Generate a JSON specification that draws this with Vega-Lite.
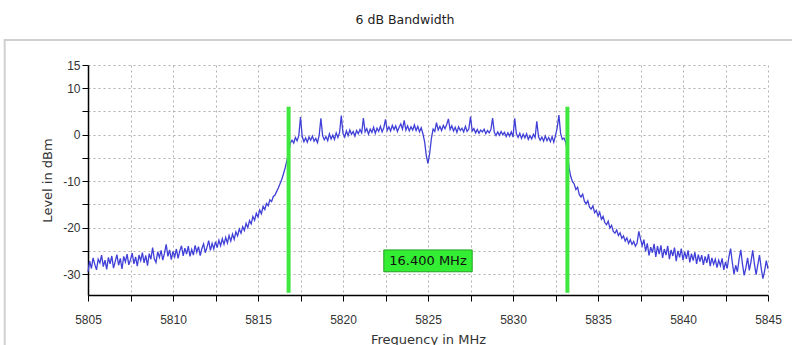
{
  "$schema": "https://vega.github.io/schema/vega-lite/v6.json",
  "width": 680,
  "height": 230,
  "autosize": {"type": "none"},
  "padding": {"left": 88, "top": 65, "right": 24, "bottom": 50},
  "background": "white",
  "config": {"font": "Liberation Sans", "view": {"stroke": null}},
  "title": {"text": "6 dB Bandwidth", "font": "DejaVu Sans", "fontSize": 12.5, "fontWeight": "normal", "offset": 12, "dx": -23, "color": "#222"},
  "datasets": {
    "trace": [
      {"f":5805.0,"l":-29.5},{"f":5805.1,"l":-27.2},{"f":5805.2,"l":-28.8},{"f":5805.3,"l":-26.5},{"f":5805.4,"l":-27.9},
      {"f":5805.5,"l":-29.1},{"f":5805.6,"l":-26.8},{"f":5805.7,"l":-27.6},{"f":5805.8,"l":-25.9},{"f":5805.9,"l":-28.4},
      {"f":5806.0,"l":-27.0},{"f":5806.1,"l":-29.0},{"f":5806.2,"l":-26.4},{"f":5806.3,"l":-27.8},{"f":5806.4,"l":-26.1},
      {"f":5806.5,"l":-28.7},{"f":5806.6,"l":-27.3},{"f":5806.7,"l":-25.8},{"f":5806.8,"l":-28.1},{"f":5806.9,"l":-26.6},
      {"f":5807.0,"l":-28.9},{"f":5807.1,"l":-26.2},{"f":5807.2,"l":-27.4},{"f":5807.3,"l":-25.7},{"f":5807.4,"l":-28.0},
      {"f":5807.5,"l":-26.9},{"f":5807.6,"l":-25.5},{"f":5807.7,"l":-27.8},{"f":5807.8,"l":-26.3},{"f":5807.9,"l":-28.3},
      {"f":5808.0,"l":-25.9},{"f":5808.1,"l":-27.1},{"f":5808.2,"l":-25.4},{"f":5808.3,"l":-27.6},{"f":5808.4,"l":-26.0},
      {"f":5808.5,"l":-28.2},{"f":5808.6,"l":-25.6},{"f":5808.7,"l":-26.8},{"f":5808.8,"l":-24.3},{"f":5808.9,"l":-26.7},
      {"f":5809.0,"l":-27.5},{"f":5809.1,"l":-25.2},{"f":5809.2,"l":-26.4},{"f":5809.3,"l":-24.9},{"f":5809.4,"l":-27.0},
      {"f":5809.5,"l":-25.5},{"f":5809.6,"l":-23.6},{"f":5809.7,"l":-26.2},{"f":5809.8,"l":-24.8},{"f":5809.9,"l":-26.9},
      {"f":5810.0,"l":-25.1},{"f":5810.1,"l":-26.3},{"f":5810.2,"l":-24.6},{"f":5810.3,"l":-26.6},{"f":5810.4,"l":-25.0},
      {"f":5810.5,"l":-23.9},{"f":5810.6,"l":-26.1},{"f":5810.7,"l":-24.4},{"f":5810.8,"l":-25.7},{"f":5810.9,"l":-24.0},
      {"f":5811.0,"l":-26.2},{"f":5811.1,"l":-24.7},{"f":5811.2,"l":-25.9},{"f":5811.3,"l":-23.8},{"f":5811.4,"l":-25.3},
      {"f":5811.5,"l":-24.1},{"f":5811.6,"l":-26.0},{"f":5811.7,"l":-24.5},{"f":5811.8,"l":-23.5},{"f":5811.9,"l":-25.4},
      {"f":5812.0,"l":-24.2},{"f":5812.1,"l":-22.8},{"f":5812.2,"l":-24.9},{"f":5812.3,"l":-23.4},{"f":5812.4,"l":-24.6},
      {"f":5812.5,"l":-23.0},{"f":5812.6,"l":-24.3},{"f":5812.7,"l":-22.7},{"f":5812.8,"l":-23.9},{"f":5812.9,"l":-22.4},
      {"f":5813.0,"l":-23.6},{"f":5813.1,"l":-22.1},{"f":5813.2,"l":-23.3},{"f":5813.3,"l":-21.7},{"f":5813.4,"l":-22.9},
      {"f":5813.5,"l":-21.4},{"f":5813.6,"l":-22.5},{"f":5813.7,"l":-20.9},{"f":5813.8,"l":-21.8},{"f":5813.9,"l":-20.3},
      {"f":5814.0,"l":-21.2},{"f":5814.1,"l":-19.8},{"f":5814.2,"l":-20.6},{"f":5814.3,"l":-19.1},{"f":5814.4,"l":-20.0},
      {"f":5814.5,"l":-18.5},{"f":5814.6,"l":-19.2},{"f":5814.7,"l":-17.6},{"f":5814.8,"l":-18.4},{"f":5814.9,"l":-16.9},
      {"f":5815.0,"l":-17.7},{"f":5815.1,"l":-16.2},{"f":5815.2,"l":-17.0},{"f":5815.3,"l":-15.4},{"f":5815.4,"l":-16.1},
      {"f":5815.5,"l":-14.8},{"f":5815.6,"l":-15.3},{"f":5815.7,"l":-14.0},{"f":5815.8,"l":-14.4},{"f":5815.9,"l":-13.3},
      {"f":5816.0,"l":-13.0},{"f":5816.1,"l":-12.2},{"f":5816.2,"l":-11.4},{"f":5816.3,"l":-10.5},{"f":5816.4,"l":-9.6},
      {"f":5816.5,"l":-8.4},{"f":5816.6,"l":-7.1},{"f":5816.7,"l":-5.6},{"f":5816.8,"l":-3.9},{"f":5816.9,"l":-1.8},
      {"f":5817.0,"l":-1.2},{"f":5817.1,"l":-1.8},{"f":5817.2,"l":-0.6},{"f":5817.3,"l":-1.3},{"f":5817.4,"l":-0.2},
      {"f":5817.5,"l":3.8},{"f":5817.6,"l":-0.4},{"f":5817.7,"l":-1.5},{"f":5817.8,"l":-0.7},{"f":5817.9,"l":-1.6},
      {"f":5818.0,"l":-0.5},{"f":5818.1,"l":-1.2},{"f":5818.2,"l":-0.3},{"f":5818.3,"l":-1.4},{"f":5818.4,"l":-0.8},
      {"f":5818.5,"l":-1.7},{"f":5818.6,"l":-0.1},{"f":5818.7,"l":3.5},{"f":5818.8,"l":-0.2},{"f":5818.9,"l":-1.1},
      {"f":5819.0,"l":-0.4},{"f":5819.1,"l":-1.3},{"f":5819.2,"l":0.2},{"f":5819.3,"l":-0.9},{"f":5819.4,"l":-0.1},
      {"f":5819.5,"l":-1.0},{"f":5819.6,"l":0.4},{"f":5819.7,"l":-0.6},{"f":5819.8,"l":0.5},{"f":5819.9,"l":4.1},
      {"f":5820.0,"l":0.3},{"f":5820.1,"l":-0.5},{"f":5820.2,"l":0.8},{"f":5820.3,"l":-0.2},{"f":5820.4,"l":1.0},
      {"f":5820.5,"l":0.1},{"f":5820.6,"l":0.7},{"f":5820.7,"l":-0.3},{"f":5820.8,"l":0.9},{"f":5820.9,"l":0.2},
      {"f":5821.0,"l":1.1},{"f":5821.1,"l":0.4},{"f":5821.2,"l":3.6},{"f":5821.3,"l":0.6},{"f":5821.4,"l":1.3},
      {"f":5821.5,"l":0.1},{"f":5821.6,"l":1.2},{"f":5821.7,"l":0.5},{"f":5821.8,"l":1.6},{"f":5821.9,"l":0.3},
      {"f":5822.0,"l":1.4},{"f":5822.1,"l":0.7},{"f":5822.2,"l":1.8},{"f":5822.3,"l":0.6},{"f":5822.4,"l":1.5},
      {"f":5822.5,"l":3.3},{"f":5822.6,"l":0.9},{"f":5822.7,"l":1.7},{"f":5822.8,"l":0.8},{"f":5822.9,"l":2.0},
      {"f":5823.0,"l":1.1},{"f":5823.1,"l":1.9},{"f":5823.2,"l":0.7},{"f":5823.3,"l":1.6},{"f":5823.4,"l":2.3},
      {"f":5823.5,"l":1.2},{"f":5823.6,"l":3.1},{"f":5823.7,"l":1.0},{"f":5823.8,"l":1.9},{"f":5823.9,"l":0.8},
      {"f":5824.0,"l":1.7},{"f":5824.1,"l":1.0},{"f":5824.2,"l":2.1},{"f":5824.3,"l":0.9},{"f":5824.4,"l":1.8},
      {"f":5824.5,"l":0.6},{"f":5824.6,"l":1.5},{"f":5824.7,"l":0.2},{"f":5824.8,"l":-1.5},{"f":5824.9,"l":-4.5},
      {"f":5825.0,"l":-6.2},{"f":5825.1,"l":-4.0},{"f":5825.2,"l":-0.8},{"f":5825.3,"l":1.2},{"f":5825.4,"l":0.7},
      {"f":5825.5,"l":2.6},{"f":5825.6,"l":1.0},{"f":5825.7,"l":1.8},{"f":5825.8,"l":0.9},{"f":5825.9,"l":2.0},
      {"f":5826.0,"l":1.3},{"f":5826.1,"l":2.2},{"f":5826.2,"l":3.4},{"f":5826.3,"l":1.1},{"f":5826.4,"l":1.9},
      {"f":5826.5,"l":0.8},{"f":5826.6,"l":1.6},{"f":5826.7,"l":0.5},{"f":5826.8,"l":1.7},{"f":5826.9,"l":0.9},
      {"f":5827.0,"l":1.4},{"f":5827.1,"l":0.6},{"f":5827.2,"l":1.8},{"f":5827.3,"l":0.7},{"f":5827.4,"l":1.2},
      {"f":5827.5,"l":3.9},{"f":5827.6,"l":0.8},{"f":5827.7,"l":1.3},{"f":5827.8,"l":0.4},{"f":5827.9,"l":1.1},
      {"f":5828.0,"l":0.3},{"f":5828.1,"l":1.0},{"f":5828.2,"l":0.6},{"f":5828.3,"l":1.2},{"f":5828.4,"l":0.2},
      {"f":5828.5,"l":0.9},{"f":5828.6,"l":0.4},{"f":5828.7,"l":1.1},{"f":5828.8,"l":3.6},{"f":5828.9,"l":0.5},
      {"f":5829.0,"l":-0.2},{"f":5829.1,"l":0.6},{"f":5829.2,"l":-0.1},{"f":5829.3,"l":0.7},{"f":5829.4,"l":0.0},
      {"f":5829.5,"l":0.5},{"f":5829.6,"l":-0.4},{"f":5829.7,"l":0.4},{"f":5829.8,"l":-0.3},{"f":5829.9,"l":0.6},
      {"f":5830.0,"l":-0.5},{"f":5830.1,"l":3.5},{"f":5830.2,"l":0.2},{"f":5830.3,"l":-0.6},{"f":5830.4,"l":0.3},
      {"f":5830.5,"l":-0.8},{"f":5830.6,"l":0.1},{"f":5830.7,"l":-0.7},{"f":5830.8,"l":0.2},{"f":5830.9,"l":-1.0},
      {"f":5831.0,"l":-0.2},{"f":5831.1,"l":-0.9},{"f":5831.2,"l":0.1},{"f":5831.3,"l":-0.6},{"f":5831.4,"l":2.9},
      {"f":5831.5,"l":-0.4},{"f":5831.6,"l":-1.2},{"f":5831.7,"l":-0.5},{"f":5831.8,"l":-1.4},{"f":5831.9,"l":-0.3},
      {"f":5832.0,"l":-1.3},{"f":5832.1,"l":-0.6},{"f":5832.2,"l":-1.5},{"f":5832.3,"l":-0.4},{"f":5832.4,"l":-1.6},
      {"f":5832.5,"l":-0.2},{"f":5832.6,"l":1.5},{"f":5832.7,"l":4.2},{"f":5832.8,"l":0.3},{"f":5832.9,"l":-1.0},
      {"f":5833.0,"l":-0.7},{"f":5833.1,"l":-1.6},{"f":5833.2,"l":-3.5},{"f":5833.3,"l":-7.2},{"f":5833.4,"l":-9.0},
      {"f":5833.5,"l":-10.1},{"f":5833.6,"l":-10.6},{"f":5833.7,"l":-11.8},{"f":5833.8,"l":-11.3},{"f":5833.9,"l":-12.9},
      {"f":5834.0,"l":-13.4},{"f":5834.1,"l":-12.8},{"f":5834.2,"l":-14.3},{"f":5834.3,"l":-14.9},{"f":5834.4,"l":-14.2},
      {"f":5834.5,"l":-15.6},{"f":5834.6,"l":-16.0},{"f":5834.7,"l":-15.3},{"f":5834.8,"l":-16.8},{"f":5834.9,"l":-16.3},
      {"f":5835.0,"l":-17.5},{"f":5835.1,"l":-16.7},{"f":5835.2,"l":-18.2},{"f":5835.3,"l":-17.6},{"f":5835.4,"l":-18.9},
      {"f":5835.5,"l":-19.4},{"f":5835.6,"l":-18.6},{"f":5835.7,"l":-20.1},{"f":5835.8,"l":-19.5},{"f":5835.9,"l":-20.8},
      {"f":5836.0,"l":-21.2},{"f":5836.1,"l":-20.5},{"f":5836.2,"l":-21.7},{"f":5836.3,"l":-21.1},{"f":5836.4,"l":-22.3},
      {"f":5836.5,"l":-21.8},{"f":5836.6,"l":-22.9},{"f":5836.7,"l":-22.2},{"f":5836.8,"l":-23.4},{"f":5836.9,"l":-22.6},
      {"f":5837.0,"l":-23.6},{"f":5837.1,"l":-23.0},{"f":5837.2,"l":-24.0},{"f":5837.3,"l":-23.3},{"f":5837.4,"l":-20.8},
      {"f":5837.5,"l":-22.4},{"f":5837.6,"l":-23.9},{"f":5837.7,"l":-22.6},{"f":5837.8,"l":-25.1},{"f":5837.9,"l":-23.4},
      {"f":5838.0,"l":-26.0},{"f":5838.1,"l":-24.2},{"f":5838.2,"l":-25.4},{"f":5838.3,"l":-23.5},{"f":5838.4,"l":-26.3},
      {"f":5838.5,"l":-24.0},{"f":5838.6,"l":-25.7},{"f":5838.7,"l":-23.8},{"f":5838.8,"l":-26.5},{"f":5838.9,"l":-24.6},
      {"f":5839.0,"l":-25.9},{"f":5839.1,"l":-23.9},{"f":5839.2,"l":-26.8},{"f":5839.3,"l":-24.8},{"f":5839.4,"l":-26.1},
      {"f":5839.5,"l":-24.3},{"f":5839.6,"l":-27.2},{"f":5839.7,"l":-25.0},{"f":5839.8,"l":-26.4},{"f":5839.9,"l":-24.5},
      {"f":5840.0,"l":-27.0},{"f":5840.1,"l":-25.2},{"f":5840.2,"l":-26.7},{"f":5840.3,"l":-24.9},{"f":5840.4,"l":-27.5},
      {"f":5840.5,"l":-25.6},{"f":5840.6,"l":-27.1},{"f":5840.7,"l":-25.3},{"f":5840.8,"l":-27.8},{"f":5840.9,"l":-25.8},
      {"f":5841.0,"l":-27.3},{"f":5841.1,"l":-25.9},{"f":5841.2,"l":-28.0},{"f":5841.3,"l":-26.2},{"f":5841.4,"l":-27.6},
      {"f":5841.5,"l":-25.7},{"f":5841.6,"l":-28.3},{"f":5841.7,"l":-26.5},{"f":5841.8,"l":-27.9},{"f":5841.9,"l":-26.8},
      {"f":5842.0,"l":-28.6},{"f":5842.1,"l":-27.0},{"f":5842.2,"l":-28.2},{"f":5842.3,"l":-26.6},{"f":5842.4,"l":-29.1},
      {"f":5842.5,"l":-27.4},{"f":5842.6,"l":-28.8},{"f":5842.7,"l":-26.3},{"f":5842.8,"l":-24.5},{"f":5842.9,"l":-27.5},
      {"f":5843.0,"l":-30.0},{"f":5843.1,"l":-28.1},{"f":5843.2,"l":-29.5},{"f":5843.3,"l":-26.8},{"f":5843.4,"l":-24.8},
      {"f":5843.5,"l":-27.9},{"f":5843.6,"l":-30.3},{"f":5843.7,"l":-28.6},{"f":5843.8,"l":-26.5},{"f":5843.9,"l":-29.2},
      {"f":5844.0,"l":-27.3},{"f":5844.1,"l":-24.9},{"f":5844.2,"l":-27.8},{"f":5844.3,"l":-30.1},{"f":5844.4,"l":-28.0},
      {"f":5844.5,"l":-25.9},{"f":5844.6,"l":-28.7},{"f":5844.7,"l":-31.0},{"f":5844.8,"l":-29.3},{"f":5844.9,"l":-27.1},
      {"f":5845.0,"l":-28.9}
    ],
    "markers": [{"f": 5816.8}, {"f": 5833.2}],
    "bandwidth": [{"fc": 5825, "lc": -27.2, "x0": 5822.4, "x1": 5827.6, "y0": -24.8, "y1": -29.5, "text": "16.400 MHz"}],
    "frame": [{"x0": 5800.1, "x1": 5848, "y0": 20.4, "y1": -60}]
  },
  "layer": [
    {
      "data": {"name": "frame"},
      "mark": {"type": "rect", "fill": null, "stroke": "#d0d0d0", "strokeWidth": 2, "clip": false},
      "encoding": {
        "x": {"field": "x0", "type": "quantitative"},
        "x2": {"field": "x1"},
        "y": {"field": "y0", "type": "quantitative"},
        "y2": {"field": "y1"}
      }
    },
    {
      "data": {"name": "trace"},
      "mark": {"type": "line", "color": "#4040d8", "strokeWidth": 1.3},
      "encoding": {
        "x": {
          "field": "f", "type": "quantitative",
          "scale": {"domain": [5805, 5845], "nice": false, "zero": false},
          "axis": {
            "title": "Frequency in MHz",
            "values": [5805, 5807.5, 5810, 5812.5, 5815, 5817.5, 5820, 5822.5, 5825, 5827.5, 5830, 5832.5, 5835, 5837.5, 5840, 5842.5, 5845],
            "labelExpr": "datum.value % 5 === 0 ? '' + datum.value : ''",
            "grid": true, "gridDash": [2, 3], "gridColor": "#b0b0b0",
            "domainColor": "#000", "domainWidth": 1.5,
            "tickColor": "#000", "tickSize": 6, "tickWidth": 1,
            "labelPadding": 13, "labelFontSize": 12, "labelColor": "#333", "labelFlush": false, "labelOverlap": false,
            "titleFont": "DejaVu Sans", "titleFontSize": 13, "titleFontWeight": "normal", "titleColor": "#333", "titlePadding": 8
          }
        },
        "y": {
          "field": "l", "type": "quantitative",
          "scale": {"domain": [-34.5, 15], "nice": false, "zero": false},
          "axis": {
            "title": "Level in dBm",
            "tickCount": 10,
            "labelExpr": "(datum.value % 10 === 0 || datum.value === 15) ? '' + datum.value : ''",
            "grid": true, "gridDash": [2, 3], "gridColor": "#b0b0b0",
            "domainColor": "#000", "domainWidth": 1.5,
            "tickColor": "#000", "tickSize": 6, "tickWidth": 1,
            "labelPadding": 2, "labelFontSize": 12, "labelColor": "#333", "labelOverlap": false, "labelBound": false,
            "titleFont": "DejaVu Sans", "titleFontSize": 13, "titleFontWeight": "normal", "titleColor": "#333", "titlePadding": 8
          }
        }
      }
    },
    {
      "data": {"name": "markers"},
      "mark": {"type": "rule", "color": "#3ee83e", "strokeWidth": 4},
      "encoding": {
        "x": {"field": "f", "type": "quantitative"},
        "y": {"datum": 6},
        "y2": {"datum": -34}
      }
    },
    {
      "data": {"name": "bandwidth"},
      "mark": {"type": "rect", "fill": "#33ee33", "stroke": "#22a022", "strokeWidth": 1},
      "encoding": {
        "x": {"field": "x0", "type": "quantitative"},
        "x2": {"field": "x1"},
        "y": {"field": "y0", "type": "quantitative"},
        "y2": {"field": "y1"}
      }
    },
    {
      "data": {"name": "bandwidth"},
      "mark": {"type": "text", "font": "DejaVu Sans", "fontSize": 13, "color": "#111", "align": "center", "baseline": "middle"},
      "encoding": {
        "x": {"field": "fc", "type": "quantitative"},
        "y": {"field": "lc", "type": "quantitative"},
        "text": {"field": "text"}
      }
    }
  ]
}
